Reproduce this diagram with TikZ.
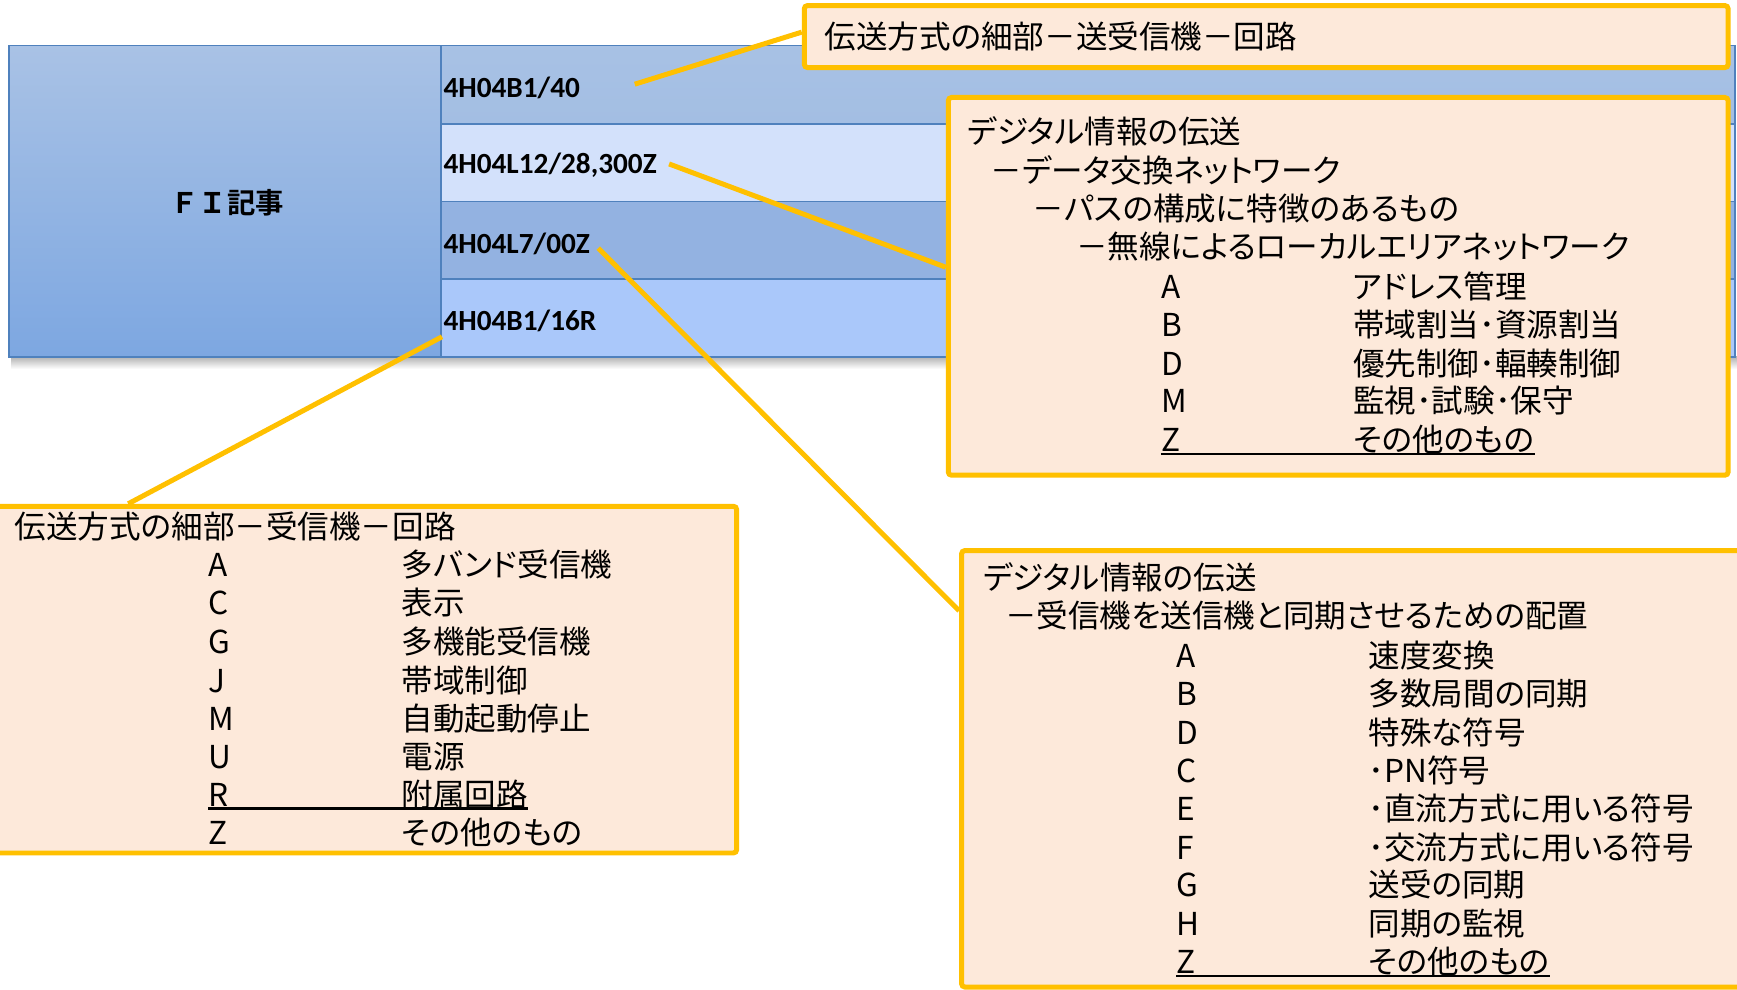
\documentclass[tikz,border=0pt]{standalone}
\usepackage{fontspec}
\setmainfont{Noto Sans CJK JP}[BoldFont={Noto Sans CJK JP Bold}]
\newfontfamily\jpp{Noto Sans CJK JP}[RawFeature=+palt]
\newfontfamily\codefont{Carlito}
\usetikzlibrary{calc,fit}
\definecolor{callfill}{HTML}{FDE9DA}
\definecolor{callline}{HTML}{FFC000}
\definecolor{tblline}{HTML}{4F81BD}
\definecolor{leftTop}{HTML}{A9C2E5}
\definecolor{leftBot}{HTML}{7DA7E1}
\definecolor{rowA}{HTML}{A3BEE3}
\definecolor{rowB}{HTML}{D3E1FB}
\definecolor{rowC}{HTML}{93B2E1}
\definecolor{rowD}{HTML}{AAC8FA}
\pgfdeclarelayer{bg}
\pgfsetlayers{bg,main}
\begin{document}
\begin{tikzpicture}[x=0.5pt,y=-0.5pt,
  callout/.style={draw=callline, line width=2.25pt, fill=callfill, rounded corners=1.5pt, inner sep=0pt},
  conn/.style={draw=callline, line width=2.25pt},
  cell/.style={draw=tblline, line width=0.75pt, inner sep=0pt},
  jp/.style={anchor=west, inner sep=0pt, font=\jpp\fontsize{14.25pt}{17pt}\selectfont, text height=0.98em, text depth=0.01em},
  code/.style={anchor=west, inner sep=0pt, font=\codefont\bfseries\fontsize{13.2pt}{15pt}\selectfont},
  uline/.style={draw=black, line width=1pt},
]
\useasboundingbox (0,0) rectangle (1568,893);
\clip (0,0) rectangle (1568,893);

% ---------- table (background layer) ----------
\begin{pgfonlayer}{bg}
  \fill[white] (0,0) rectangle (1568,893);
  \shade[top color=black!30, bottom color=white] (10,322) rectangle (1568,333);
  \node[cell, fit={(8,41) (398,322)}, top color=leftTop, bottom color=leftBot] (fi) {};
  \node[cell, fit={(398,41) (1566,112)}, top color=rowA!95!white, bottom color=rowA] (r1) {};
  \node[cell, fit={(398,112) (1566,182)}, fill=rowB] (r2) {};
  \node[cell, fit={(398,182) (1566,252)}, fill=rowC] (r3) {};
  \node[cell, fit={(398,252) (1566,322)}, fill=rowD] (r4) {};
\end{pgfonlayer}

\node[inner sep=0pt, font=\bfseries\fontsize{12.8pt}{15pt}\selectfont] (fil) at (205,183) {ＦＩ記事};
\node[code] (k1) at (400,79) {4H04B1/40};
\node[code] (k2) at (400,149) {4H04L12/28,300Z};
\node[code] (k3) at (400,220) {4H04L7/00Z};
\node[code] (k4) at (400,290) {4H04B1/16R};

% ---------- callout boxes ----------
\node[callout, fit={(726,5) (1560,61)}] (box1) {};
\node[callout, fit={(856,88) (1560,429)}] (box2) {};
\node[callout, fit={(-8,457) (665,770)}] (box3) {};
\node[callout, fit={(868,497) (1580,891)}] (box4) {};

% ---------- connectors ----------
\coordinate (c1s) at (573,76);
\coordinate (c2s) at (604,148);
\coordinate (c3s) at (540,224);
\coordinate (c4s) at (399,304);
\begin{pgfonlayer}{bg}
  \draw[conn] (c1s) -- ([yshift=2pt]box1.west);
  \draw[conn] (c2s) -- ($(box2.north west)!0.45!(box2.south west)$);
  \draw[conn] (c3s) -- ($(box4.north west)!0.142!(box4.south west)$);
  \draw[conn] (c4s) -- ($(box3.north west)!0.186!(box3.north east)$);
\end{pgfonlayer}

% ---------- box 1 ----------
\node[jp] (t1) at (744,34) {伝送方式の細部－送受信機－回路};

% ---------- box 2 ----------
\node[jp] (b2l1) at (873,120) {デジタル情報の伝送};
\node[jp] (b2l2) at (894,155) {－データ交換ネットワーク};
\node[jp] (b2l3) at (932,189) {－パスの構成に特徴のあるもの};
\node[jp] (b2l4) at (971,224) {－無線によるローカルエリアネットワーク};
\node[jp] (b2a) at (1048,260) {A};   \node[jp] (b2aj) at (1221,260) {アドレス管理};
\node[jp] (b2b) at (1048,294) {B};   \node[jp] (b2bj) at (1221,294) {帯域割当･資源割当};
\node[jp] (b2d) at (1048,329) {D};   \node[jp] (b2dj) at (1221,329) {優先制御･輻輳制御};
\node[jp] (b2m) at (1048,363) {M};   \node[jp] (b2mj) at (1221,363) {監視･試験･保守};
\node[jp] (b2z) at (1048,398) {Z};   \node[jp] (b2zj) at (1221,398) {その他のもの};
\draw[uline] ([yshift=-1.1pt]b2z.base west) -- ([yshift=-1.1pt]b2zj.base east);

% ---------- box 3 ----------
\node[jp] (b3t) at (13,476) {伝送方式の細部－受信機－回路};
\node[jp] (b3a) at (188,511) {A};  \node[jp] (b3aj) at (362,511) {多バンド受信機};
\node[jp] (b3c) at (188,545) {C};  \node[jp] (b3cj) at (362,545) {表示};
\node[jp] (b3g) at (188,580) {G};  \node[jp] (b3gj) at (362,580) {多機能受信機};
\node[jp] (b3j) at (188,615) {J};  \node[jp] (b3jj) at (362,615) {帯域制御};
\node[jp] (b3m) at (188,650) {M};  \node[jp] (b3mj) at (362,650) {自動起動停止};
\node[jp] (b3u) at (188,684) {U};  \node[jp] (b3uj) at (362,684) {電源};
\node[jp] (b3r) at (188,718) {R};  \node[jp] (b3rj) at (362,718) {附属回路};
\node[jp] (b3z) at (188,753) {Z};  \node[jp] (b3zj) at (362,753) {その他のもの};
\draw[uline] ([yshift=-1.1pt]b3r.base west) -- ([yshift=-1.1pt]b3rj.base east);

% ---------- box 4 ----------
\node[jp] (b4l1) at (887,522) {デジタル情報の伝送};
\node[jp] (b4l2) at (907,557) {－受信機を送信機と同期させるための配置};
\node[jp] (b4a) at (1062,593) {A};  \node[jp] (b4aj) at (1235,593) {速度変換};
\node[jp] (b4b) at (1062,627) {B};  \node[jp] (b4bj) at (1235,627) {多数局間の同期};
\node[jp] (b4d) at (1062,662) {D};  \node[jp] (b4dj) at (1235,662) {特殊な符号};
\node[jp] (b4c) at (1062,697) {C};  \node[jp] (b4cj) at (1235,697) {･PN符号};
\node[jp] (b4e) at (1062,731) {E};  \node[jp] (b4ej) at (1235,731) {･直流方式に用いる符号};
\node[jp] (b4f) at (1062,766) {F};  \node[jp] (b4fj) at (1235,766) {･交流方式に用いる符号};
\node[jp] (b4g) at (1062,800) {G};  \node[jp] (b4gj) at (1235,800) {送受の同期};
\node[jp] (b4h) at (1062,835) {H};  \node[jp] (b4hj) at (1235,835) {同期の監視};
\node[jp] (b4z) at (1062,869) {Z};  \node[jp] (b4zj) at (1235,869) {その他のもの};
\draw[uline] ([yshift=-1.1pt]b4z.base west) -- ([yshift=-1.1pt]b4zj.base east);
\end{tikzpicture}
\end{document}
